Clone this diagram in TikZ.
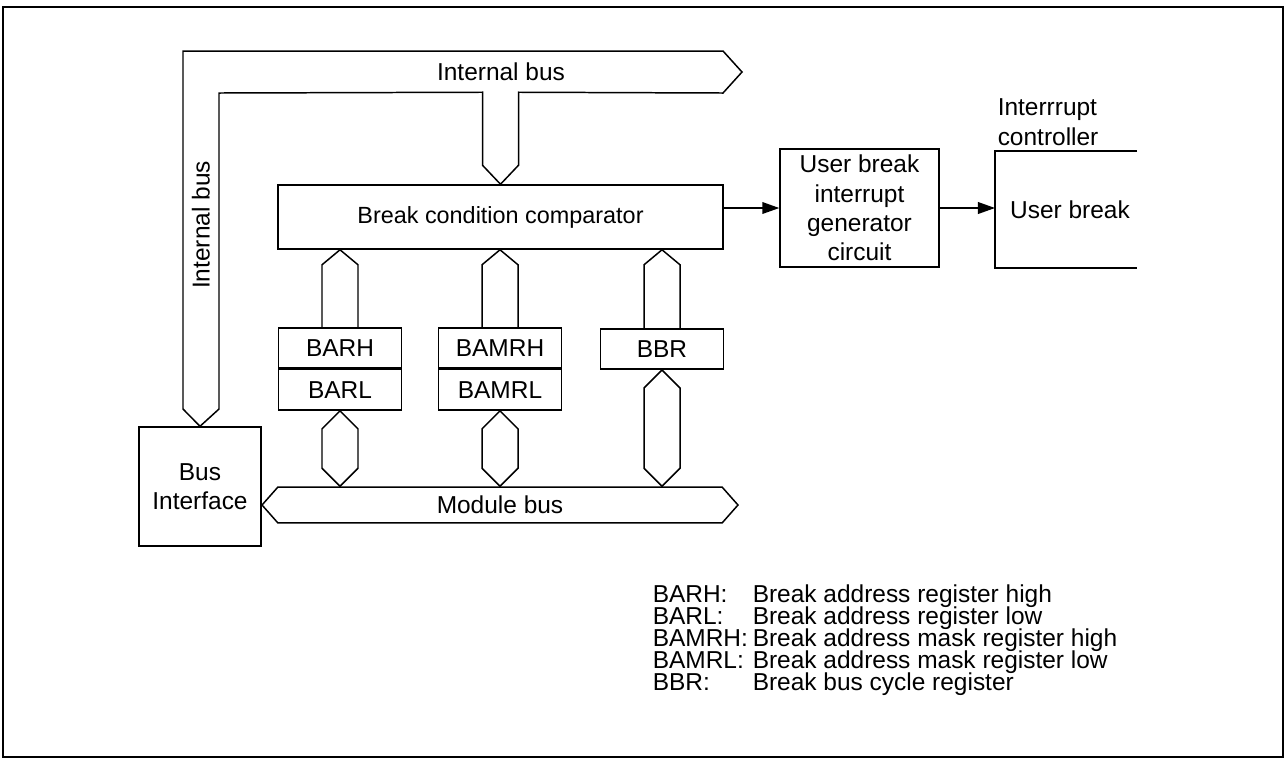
\documentclass[tikz,border=0pt]{standalone}
\usepackage{fontspec}
\setmainfont{Liberation Sans}
\usetikzlibrary{arrows.meta,positioning,calc,shapes.symbols}

\begin{document}
\begin{tikzpicture}[x=0.47pt,y=-0.47pt,line width=0.7pt,
  blk/.style={draw,rectangle,inner sep=0pt,align=center,font=\fontsize{11.5}{13.8}\selectfont},
  reg/.style={blk,minimum width=58pt,minimum height=19pt},
  txt/.style={inner sep=0pt,font=\fontsize{11.5}{13.8}\selectfont},
  arr/.style={-{Triangle[length=8pt,width=5.5pt]}},
  bus/.style={line join=miter}]
  \useasboundingbox (0,0) rectangle (1288,760);
  \draw (3,7) rectangle (1283,757);
  % blocks
  \node[blk,minimum width=209.2pt,minimum height=30.1pt,font=\fontsize{11}{14}\selectfont] (cmp) at (500.5,217) {Break condition comparator};
  \node[blk,minimum width=74.7pt,minimum height=55.5pt] (ugen) at (859.5,208) {User break\\interrupt\\generator\\circuit};
  \node[blk,minimum width=57.3pt,minimum height=55.9pt] (bif) at (200,486.5) {Bus\\Interface};
  \node[reg] (barh) at (340,348) {BARH};
  \node[reg,below=0pt of barh] (barl) {BARL};
  \node[reg] (bamrh) at (500,348) {BAMRH};
  \node[reg,below=0pt of bamrh] (bamrl) {BAMRL};
  \node[reg] (bbr) at (662,349) {BBR};
  \node[draw,signal,signal to=east and west,signal pointer angle=97,inner sep=0pt,
        minimum width=223.7pt,minimum height=16.9pt,font=\fontsize{11.5}{14}\selectfont] (mbus) at (500,505) {Module bus};
  % internal bus
  \draw[bus] (bif.north) -- (183,409) -- (183,51) -- (723,51) -- (742,72) -- (723,93)
    -- ($(cmp.north)+(18,-92)$) -- ($(cmp.north)+(18,-19)$) -- (cmp.north)
    -- ($(cmp.north)+(-18,-19)$) -- ($(cmp.north)+(-18,-92)$) -- (219,93) -- (219,409) -- cycle;
  \node[txt] (ibus1) at (501,72) {Internal bus};
  \node[txt,rotate=90] (ibus2) at (201,225) {Internal bus};
  % register buses
  \foreach \r in {barh,bamrh,bbr}{
    \coordinate (c\r) at (\r.north |- cmp.south);
    \draw[bus] ($(\r.north)+(-18,0)$) -- ($(c\r)+(-18,15)$) -- (c\r) -- ($(c\r)+(18,15)$) -- ($(\r.north)+(18,0)$);
  }
  \foreach \r in {barl,bamrl,bbr}{
    \coordinate (m\r) at (\r.south |- mbus.north);
    \draw[bus] (\r.south) -- ($(\r.south)+(18,18)$) -- ($(m\r)+(18,-18)$) -- (m\r)
      -- ($(m\r)+(-18,-18)$) -- ($(\r.south)+(-18,18)$) -- cycle;
  }
  % interrupt controller
  \coordinate (ictl) at (995,208);
  \draw (1137,151) -- (995,151) -- (995,268) -- (1137,268);
  \node[txt] (ubrk) at (1070,210) {User break};
  \node[txt,align=left,anchor=south west] (ictllbl) at (997,146) {Interrrupt\\controller};
  \draw[arr] (cmp.east |- ugen.west) -- (ugen.west);
  \draw[arr] (ugen.east) -- (ictl);
  % legend
  \foreach \k/\d [count=\i] in {BARH:/Break address register high,BARL:/Break address register low,
      BAMRH:/Break address mask register high,BAMRL:/Break address mask register low,
      BBR:/Break bus cycle register}{
    \node[txt,anchor=base west] (k\i) at (652,580+22*\i) {\k};
    \node[txt,anchor=base west] (d\i) at (752,580+22*\i) {\d};
  }
\end{tikzpicture}
\end{document}
